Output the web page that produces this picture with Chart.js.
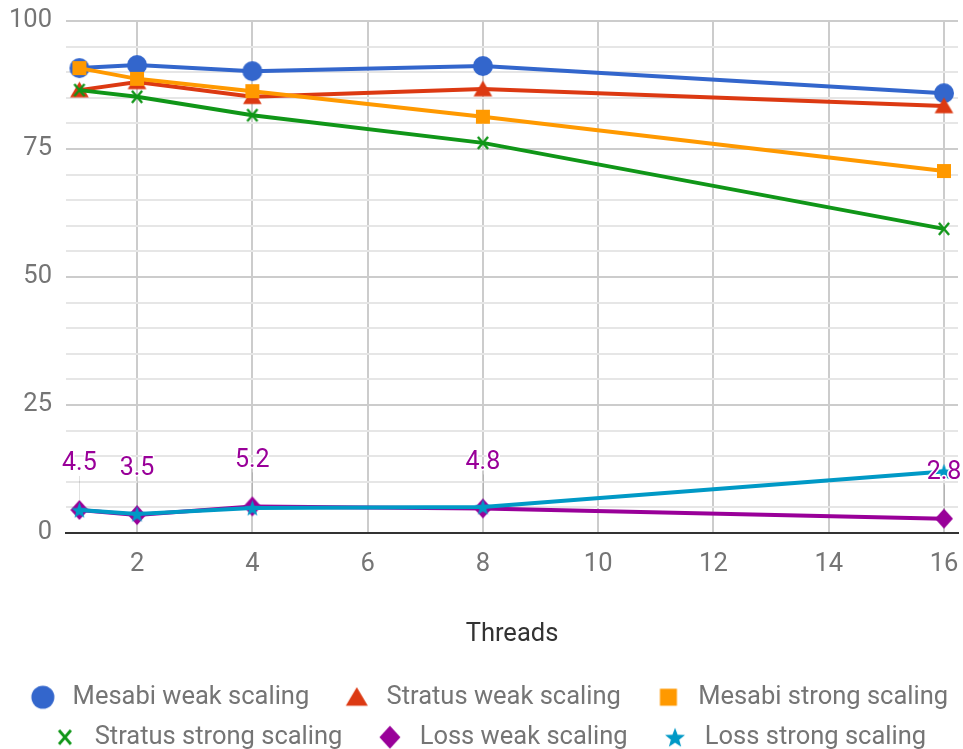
<!DOCTYPE html>
<html><head><meta charset="utf-8">
<script src="https://cdn.jsdelivr.net/npm/chart.js@4.4.0/dist/chart.umd.min.js"></script>
<style>html,body{margin:0;padding:0;background:#fff}#wrap{width:963px;height:749px;position:relative}</style>
</head><body><div id="wrap"><canvas id="c"></canvas></div>
<script>
// ---- data ----
const threads = [1, 2, 4, 8, 16];
const xTicks = [2, 4, 6, 8, 10, 12, 14, 16];
const yTickLabels = [0, 25, 50, 75, 100];
const seriesNames = ['Mesabi weak scaling', 'Stratus weak scaling', 'Mesabi strong scaling',
  'Stratus strong scaling', 'Loss weak scaling', 'Loss strong scaling'];
const mesabiWeak = [90.8, 91.4, 90.2, 91.2, 85.9];
const stratusWeak = [86.5, 88.1, 85.2, 86.7, 83.4];
const mesabiStrong = [90.8, 88.7, 86.3, 81.3, 70.7];
const stratusStrong = [86.5, 85.2, 81.6, 76.2, 59.4];
const lossWeak = [4.5, 3.5, 5.2, 4.8, 2.8];
const lossStrong = [4.5, 3.7, 4.9, 5.1, 12.0];
const lossWeakLabels = ['4.5', '3.5', '5.2', '4.8', '2.8'];
const xTitle = 'Threads';

// ---- styles ----
const colors = ['#3366cc', '#dc3912', '#ff9900', '#109618', '#990099', '#0099c6'];
const shapes = ['circle', 'triangle', 'square', 'x', 'diamond', 'star'];
const chartSizes = [10, 8.5, 7, 6, 9, 8.5];
const legendSizes = [11.5, 10, 8.5, 7, 10.5, 10.5];
const FS = 25.5;
const LEG_W = 50, LEG_CX = 33;

function marker(shape, color, s, W, H, cx) {
  const c = document.createElement('canvas');
  c.width = W; c.height = H;
  const g = c.getContext('2d');
  const cy = H / 2;
  g.fillStyle = color; g.strokeStyle = color;
  g.beginPath();
  switch (shape) {
    case 'circle': g.arc(cx, cy, s, 0, 2 * Math.PI); g.fill(); break;
    case 'triangle':
      g.moveTo(cx, cy - s); g.lineTo(cx + s * 1.1, cy + s * 0.85); g.lineTo(cx - s * 1.1, cy + s * 0.85);
      g.closePath(); g.fill(); break;
    case 'square': g.rect(cx - s, cy - s, 2 * s, 2 * s); g.fill(); break;
    case 'x':
      g.lineWidth = Math.max(2, s * 0.4); g.lineCap = 'butt';
      g.moveTo(cx - s * 0.85, cy - s); g.lineTo(cx + s * 0.85, cy + s);
      g.moveTo(cx + s * 0.85, cy - s); g.lineTo(cx - s * 0.85, cy + s); g.stroke(); break;
    case 'diamond':
      g.moveTo(cx, cy - s * 1.1); g.lineTo(cx + s, cy); g.lineTo(cx, cy + s * 1.1); g.lineTo(cx - s, cy);
      g.closePath(); g.fill(); break;
    case 'star':
      for (let i = 0; i < 10; i++) {
        const r = i % 2 === 0 ? s : s * 0.42;
        const a = -Math.PI / 2 + i * Math.PI / 5;
        const px = cx + r * Math.cos(a), py = cy + s * 0.1 + r * Math.sin(a);
        if (i === 0) g.moveTo(px, py); else g.lineTo(px, py);
      }
      g.closePath(); g.fill(); break;
  }
  return c;
}

function draw() {
  const seriesValues = [mesabiWeak, stratusWeak, mesabiStrong, stratusStrong, lossWeak, lossStrong];
  const chartMarkers = shapes.map((sh, i) => {
    const W = Math.ceil(chartSizes[i] * 2 + 6);
    return marker(sh, colors[i], chartSizes[i], W, W, W / 2);
  });
  const legendMarkers = shapes.map((sh, i) => marker(sh, colors[i], legendSizes[i], LEG_W, 28, LEG_CX));

  const datasets = seriesValues.map((vals, i) => ({
    label: seriesNames[i],
    data: threads.map((t, j) => ({ x: t, y: vals[j] })),
    borderColor: colors[i],
    backgroundColor: colors[i],
    borderWidth: 4,
    pointStyle: chartMarkers[i],
    pointRadius: 8,
    pointHoverRadius: 8,
    tension: 0,
    order: seriesValues.length - 1 - i
  }));

  const annotPlugin = {
    id: 'annot',
    beforeDatasetsDraw(chart) {
      const ctx = chart.ctx;
      const meta = chart.getDatasetMeta(4);
      ctx.save();
      ctx.strokeStyle = 'rgba(0,0,0,0.12)';
      ctx.lineWidth = 1;
      meta.data.forEach(el => {
        ctx.beginPath();
        ctx.moveTo(Math.round(el.x) + 0.5, el.y - 34);
        ctx.lineTo(Math.round(el.x) + 0.5, el.y);
        ctx.stroke();
      });
      ctx.restore();
    },
    afterDatasetsDraw(chart) {
      const ctx = chart.ctx;
      const meta = chart.getDatasetMeta(4);
      ctx.save();
      ctx.font = '25px Roboto';
      ctx.textAlign = 'center';
      ctx.textBaseline = 'middle';
      meta.data.forEach((el, j) => {
        const ty = el.y - 46;
        ctx.lineWidth = 3;
        ctx.strokeStyle = '#ffffff';
        ctx.lineJoin = 'round';
        ctx.strokeText(lossWeakLabels[j], el.x, ty);
        ctx.fillStyle = colors[4];
        ctx.fillText(lossWeakLabels[j], el.x, ty);
      });
      ctx.restore();
    }
  };

  new Chart(document.getElementById('c'), {
    type: 'line',
    data: { datasets },
    plugins: [annotPlugin],
    options: {
      responsive: true,
      maintainAspectRatio: false,
      animation: false,
      layout: { autoPadding: false, padding: { top: 21, right: -5, bottom: -11, left: -10 } },
      plugins: {
        tooltip: { enabled: false },
        legend: {
          position: 'bottom',
          labels: {
            font: { family: 'Roboto', size: FS },
            color: '#757575',
            usePointStyle: true,
            pointStyleWidth: LEG_W,
            padding: 14.5,
            sort: (a, b) => a.datasetIndex - b.datasetIndex,
            generateLabels: (chart) => chart.data.datasets.map((ds, i) => ({
              text: ds.label,
              fillStyle: colors[i],
              strokeStyle: colors[i],
              lineWidth: 0,
              pointStyle: legendMarkers[i],
              hidden: false,
              datasetIndex: i,
              fontColor: '#757575'
            }))
          }
        }
      },
      scales: {
        x: {
          type: 'linear',
          min: 0.7675,
          max: 16.243,
          afterBuildTicks: (scale) => { scale.ticks = xTicks.map(v => ({ value: v })); },
          afterFit: (scale) => { scale.height = 137; scale.paddingLeft = 0; scale.paddingRight = 5; scale.paddingTop = 0; scale.paddingBottom = 0; },
          grid: { color: '#cccccc', lineWidth: 2, drawTicks: false },
          border: { display: true, color: '#333333', width: 2 },
          ticks: {
            autoSkip: false, maxRotation: 0, padding: 16,
            font: { family: 'Roboto', size: FS }, color: '#757575'
          },
          title: {
            display: true, text: xTitle, color: '#333333',
            font: { family: 'Roboto', size: FS },
            padding: { top: 0, bottom: 20 }
          }
        },
        y: {
          min: 0, max: 100,
          afterFit: (scale) => { scale.width = 76; scale.paddingTop = 0; scale.paddingBottom = 0; },
          grid: {
            drawTicks: false, lineWidth: 2,
            color: (ctx) => (yTickLabels.includes(ctx.tick.value) ? '#cccccc' : '#e6e6e6')
          },
          border: { display: false },
          ticks: {
            stepSize: 5, autoSkip: false, padding: 14,
            font: { family: 'Roboto', size: FS }, color: '#757575',
            callback: (v) => (yTickLabels.includes(v) ? String(v) : '')
          }
        }
      }
    }
  });
}

if (document.fonts && document.fonts.load) {
  document.fonts.load('25px Roboto').then(draw, draw);
} else { draw(); }
</script>
</body></html>
